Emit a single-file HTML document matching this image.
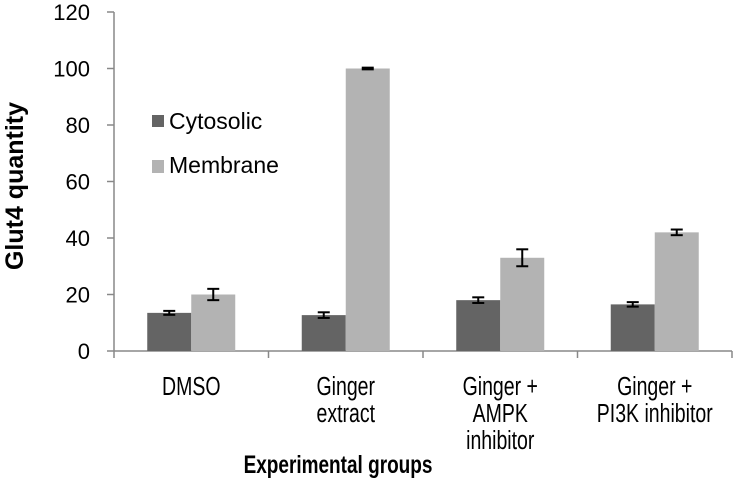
<!DOCTYPE html>
<html><head><meta charset="utf-8"><style>
body{margin:0;background:#fff}
svg text{font-family:"Liberation Sans",Arial,sans-serif}
</style></head><body>
<svg id="c" width="735" height="486" xmlns="http://www.w3.org/2000/svg"></svg>
<script>
const categories=[["DMSO"],["Ginger","extract"],["Ginger +","AMPK","inhibitor"],["Ginger +","PI3K inhibitor"]];
const cytosolic=[13.5,12.7,18,16.5];
const cytosolicErr=[0.7,1,1,0.8];
const membrane=[20,100,33,42];
const membraneErr=[2,0.3,3,1];
const yTicks=[0,20,40,60,80,100,120];
const svg=document.getElementById('c');
const NS='http://www.w3.org/2000/svg';
const x0=114,x1=732,yBase=351,yTop=12,ymax=120;
const y=v=>yBase-(v/ymax)*(yBase-yTop);
const gw=(x1-x0)/categories.length;
const bw=44;
function mk(t,a,txt){const e=document.createElementNS(NS,t);for(const k in a)e.setAttribute(k,a[k]);if(txt!==undefined)e.textContent=txt;svg.appendChild(e);return e;}
let e=mk('line',{x1:x0,y1:yTop,x2:x0,y2:yBase,stroke:'#888','stroke-width':1.5});


yTicks.forEach(t=>{
 let l=mk('line',{x1:x0-7,y1:y(t),x2:x0,y2:y(t),stroke:'#888','stroke-width':1.5});
 
 
 let tx=mk('text',{x:90,y:y(t)+8,'text-anchor':'end','font-size':22,fill:'#000'},t);
 
 
});
e=mk('line',{x1:x0,y1:yBase,x2:x1,y2:yBase,stroke:'#888','stroke-width':1.5});


for(let i=0;i<=categories.length;i++){
 let l=mk('line',{x1:x0+i*gw,y1:yBase,x2:x0+i*gw,y2:yBase+7,stroke:'#888','stroke-width':1.5});
 
 
}
function err(cx,v,er){
 const g=[[cx,y(v+er),cx,y(v-er)],[cx-6,y(v+er),cx+6,y(v+er)],[cx-6,y(v-er),cx+6,y(v-er)]];
 g.forEach(p=>{let l=mk('line',{x1:p[0],y1:p[1],x2:p[2],y2:p[3],stroke:'#000','stroke-width':2});
 
 });
}
categories.forEach((c,i)=>{
 const cx=x0+gw*(i+0.5);
 let r=mk('rect',{x:cx-bw,y:y(cytosolic[i]),width:bw,height:yBase-y(cytosolic[i]),fill:'#646464'});
 
 
 r=mk('rect',{x:cx,y:y(membrane[i]),width:bw,height:yBase-y(membrane[i]),fill:'#b3b3b3'});
 
 
 err(cx-bw/2,cytosolic[i],cytosolicErr[i]);
 err(cx+bw/2,membrane[i],membraneErr[i]);
 c.forEach((ln,j)=>{let t=mk('text',{x:0,y:0,transform:`translate(${cx},${395+j*27}) scale(0.75,1)`,'text-anchor':'middle','font-size':26,fill:'#000'},ln);
 
 });
});
e=mk('text',{x:0,y:0,transform:'translate(338,473) scale(0.76,1)','text-anchor':'middle','font-size':25,'font-weight':'bold'},'Experimental groups');


e=mk('text',{x:0,y:0,transform:'translate(23,186) rotate(-90)','text-anchor':'middle','font-size':25,'font-weight':'bold'},'Glut4 quantity');


e=mk('rect',{x:152,y:115,width:12,height:12,fill:'#646464'});


e=mk('text',{x:169,y:129,'font-size':23},'Cytosolic');


e=mk('rect',{x:152,y:160,width:12,height:13,fill:'#b3b3b3'});


e=mk('text',{x:169,y:173,'font-size':23},'Membrane');


</script>
</body></html>
